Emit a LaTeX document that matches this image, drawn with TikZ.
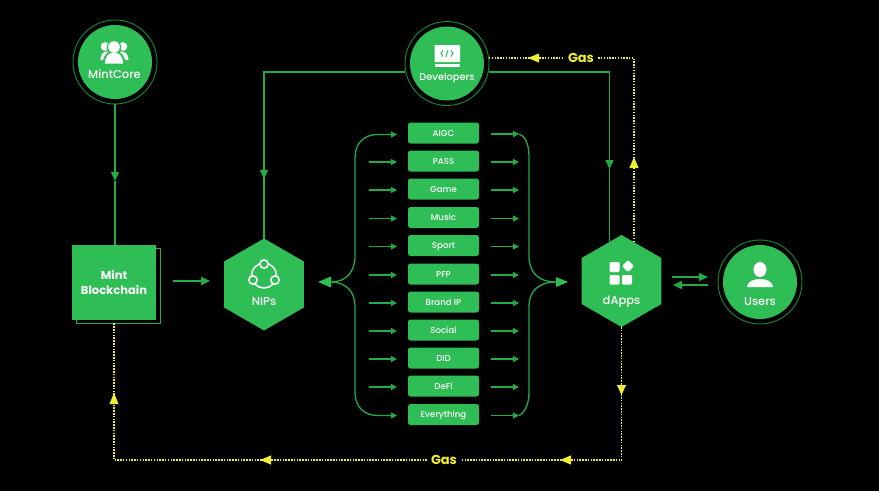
\documentclass[tikz,border=0pt]{standalone}
\usepackage{fontspec}
\setmainfont{Poppins}
\newfontfamily\medfont{Poppins Medium}
\usetikzlibrary{arrows.meta,shapes.geometric,calc}
\definecolor{mintg}{RGB}{47,190,85}
\definecolor{lineg}{RGB}{32,172,70}
\definecolor{ringg}{RGB}{18,140,50}
\definecolor{gasy}{RGB}{238,238,50}
\tikzset{
  disc/.style={circle,fill=mintg,minimum size=74pt,inner sep=0pt,outer sep=0pt},
  ring/.style={circle,draw=ringg,line width=0.9pt,minimum size=84pt,inner sep=0pt,outer sep=0pt},
  hexa/.style={regular polygon,regular polygon sides=6,shape border rotate=30,fill=mintg,minimum size=92pt,inner sep=0pt,outer sep=0pt},
  pill/.style={rectangle,rounded corners=2.5pt,fill=mintg,minimum width=71pt,minimum height=21pt,inner sep=0pt,text=white,text height=6.2pt,text depth=0pt,font=\medfont\fontsize{8.6}{10}\selectfont},
  caption/.style={text=white,inner sep=0pt,font=\medfont\fontsize{11.5}{13}\selectfont},
  gline/.style={draw=lineg,line width=1.3pt},
  gsmall/.style={gline,-{Triangle[length=6pt,width=6pt]}},
  gbig/.style={gline,-{Triangle[length=9pt,width=8pt]}},
  yline/.style={draw=gasy,line width=1.6pt,dash pattern=on 1.5pt off 1.3pt},
  gaslabel/.style={fill=black,text=gasy,inner sep=0pt,minimum width=34pt,minimum height=16pt,font=\bfseries\fontsize{13}{15}\selectfont}
}
\begin{document}
\begin{tikzpicture}[x=1pt,y=-1pt]
\useasboundingbox[fill=black] (0,0) rectangle (879,491);

% --- main nodes
\node[disc] (mint) at (115,62) {};
\node[ring] (mintring) at (115,62) {};
\node[disc] (dev) at (447,63.5) {};
\node[ring] (devring) at (447,63.5) {};
\node[disc] (users) at (760,282) {};
\node[ring] (usersring) at (760,282) {};
\node[hexa] (nips) at (264,284.5) {};
\node[hexa] (dapps) at (621.5,281) {};
\draw[draw=lineg,line width=0.9pt] (76,248) -- (160,248) -- (160,323) -- (76,323) -- cycle;
\node[rectangle,fill=mintg,minimum width=84pt,minimum height=75pt,inner sep=0pt,outer sep=0pt,text=white,align=center,font=\bfseries\fontsize{11.5}{15}\selectfont] (chain) at (114,282.5) {Mint\\Blockchain};

% --- captions
\node[caption] (tmint) at (114.5,74) {MintCore};
\node[caption,font=\medfont\fontsize{9.8}{12}\selectfont] (tdev) at (447,78) {Developers};
\node[caption] (tusers) at (760,302) {Users};
\node[caption] (tnips) at (264,302) {NIPs};
\node[caption] (tdapps) at (621.5,301.5) {dApps};

% --- pills and their arrows
\foreach \i/\t/\y in {1/AIGC/133,2/PASS/161,3/Game/189,4/Music/217.5,5/Sport/245.5,6/PFP/274,7/Brand IP/302,8/Social/330,9/DID/358,10/DeFi/386,11/Everything/414.5}{
  \node[pill] (p\i) at (443.5,\y) {\t};
  \coordinate (l\i) at (369,\y+1);
  \coordinate (r\i) at (519,\y+1);
  \coordinate (pl\i) at (408,\y+1);
  \coordinate (pr\i) at (479,\y+1);
  \ifnum\i=1\else\ifnum\i=11\else
    \draw[gsmall,shorten >=11pt] (l\i) -- (pl\i);
  \fi\fi
  \draw[gsmall,shorten <=12pt] (pr\i) -- (r\i);
}

% --- left brace
\coordinate (ltip) at (318,282);
\coordinate (lstem) at (331,282);
\coordinate (lt) at (397,134.5);
\coordinate (lb) at (397,415.5);
\draw[gsmall] (lstem) .. controls (346,282) and (355,272) .. (355,256) -- (355,158)
   .. controls (355,143) and (364,134.5) .. (378,134.5) -- (lt);
\draw[gsmall] (lstem) .. controls (346,282) and (355,292) .. (355,306) -- (355,392)
   .. controls (355,407) and (364,415.5) .. (378,415.5) -- (lb);
\fill[mintg] (ltip) -- (lstem |- 0,276.5) -- (lstem |- 0,287.5) -- cycle;

% --- right brace
\coordinate (rstem) at (556,282);
\coordinate (rtip) at (568,282);
\draw[gline] (r1) .. controls (524,135) and (529,143) .. (529,156) -- (529,256)
   .. controls (529,272) and (538,282) .. (rstem);
\draw[gline] (r11) .. controls (524,413) and (529,405) .. (529,393) -- (529,306)
   .. controls (529,292) and (538,282) .. (rstem);
\fill[mintg] (rtip) -- (rstem |- 0,277) -- (rstem |- 0,287) -- cycle;

% --- green connectors
\coordinate (mintarrow) at (115,181);
\draw[gbig] (mint.south |- mintring.south) -- (mintarrow);
\draw[gline] (mintarrow) -- (chain.north -| mintarrow);

\coordinate (c1) at (173,281);
\coordinate (c2) at (210,281);
\draw[gbig] (c1) -- (c2);

\coordinate (d1) at (405,72);
\coordinate (d2) at (264,72);
\coordinate (d3) at (264,179);
\draw[gline] (d1) -- (d2) -- (nips.north);
\draw[gbig] (d2) -- (d3);
\coordinate (e1) at (489,72);
\coordinate (e2) at (609.5,72);
\coordinate (e3) at (609.5,169);
\coordinate (e4) at (609.5,243);
\draw[gline] (e1) -- (e2) -- (e4);
\draw[gbig] (e2) -- (e3);

\coordinate (u1) at (672,277);
\coordinate (u2) at (708,277);
\coordinate (u3) at (708,285);
\coordinate (u4) at (673,285);
\draw[gbig] (u1) -- (u2);
\draw[gbig] (u3) -- (u4);

% --- yellow Gas paths
\coordinate (y0) at (489,58);
\coordinate (y1) at (634,58);
\coordinate (y2) at (634,242);
\coordinate (y3) at (621.5,460);
\coordinate (y4) at (114,460);
\coordinate (y5) at (114,323);
\draw[yline] (y2) -- (y1) -- (y0);
\draw[yline] (dapps.south) -- (y3) -- (y4) -- (y5);
\node[gaslabel] (gastop) at (581,58) {Gas};
\node[gaslabel] (gasbot) at (444,460) {Gas};
\foreach \n/\tx/\ty/\bx/\by in {a1/528/58/539/58, a2/634/157/634/168, a3/621.5/395/621.5/385, a4/560/460/571/460, a5/260/460/271/460, a6/114/393/114/404}{
  \fill[gasy] (\tx,\ty) -- ($(\bx,\by)!4.6pt!90:(\tx,\ty)$) -- ($(\bx,\by)!4.6pt!-90:(\tx,\ty)$) -- cycle;
}

% --- icon: people
\fill[white] (105,46.5) circle (4.3);
\fill[white] (123,46.5) circle (4.3);
\fill[white] (100.5,60) .. controls (100.5,54) and (103,51.5) .. (107,51.5) -- (121,51.5) .. controls (125,51.5) and (128.5,54) .. (128.5,60) -- (126,60) -- (122,56) -- (106,56) -- (103,60) -- cycle;
\fill[mintg] (114,47.5) circle (7.3);
\fill[mintg] (102.5,64) .. controls (103,55) and (108,50.5) .. (114,50.5) .. controls (120,50.5) and (125,55) .. (125.5,64) -- cycle;
\fill[white] (114,47) circle (5.8);
\fill[white] (105,63.5) .. controls (105,56) and (109,52.5) .. (114,52.5) .. controls (119,52.5) and (123,56) .. (123,63.5) -- cycle;

% --- icon: laptop
\fill[white,rounded corners=0.5pt] (434.5,45) rectangle (460,62);
\fill[white] (434.5,64.2) rectangle (460,66.8);
\begin{scope}[draw=mintg,line width=1pt]
\draw (443,50.5) -- (441,53.5) -- (443,56.5);
\draw (451,50.5) -- (453,53.5) -- (451,56.5);
\draw (448,50) -- (446,57);
\end{scope}

% --- icon: NIPs triangle of circles
\draw[white,line width=1.5pt] (264,275.5) circle (12.5);
\foreach \cx/\cy in {264/264,253/280,275/280}{
  \filldraw[fill=mintg,draw=white,line width=1.5pt] (\cx,\cy) circle (4.2);
}

% --- icon: dApps
\fill[white,rounded corners=1.2pt] (609.5,262) rectangle (619.5,272);
\fill[white,rounded corners=1.2pt] (609.5,275) rectangle (619.5,284.5);
\fill[white,rounded corners=1.2pt] (622,275) rectangle (632,284.5);
\fill[white,rounded corners=1.2pt] (628,260) -- (634,266) -- (628,272) -- (622,266) -- cycle;

% --- icon: user
\fill[white] (760,269.5) ellipse (6.5 and 7.5);
\fill[white] (747,287) .. controls (747,282) and (753,279) .. (760,279) .. controls (767,279) and (773,282) .. (773,287) -- cycle;
\end{tikzpicture}
\end{document}
